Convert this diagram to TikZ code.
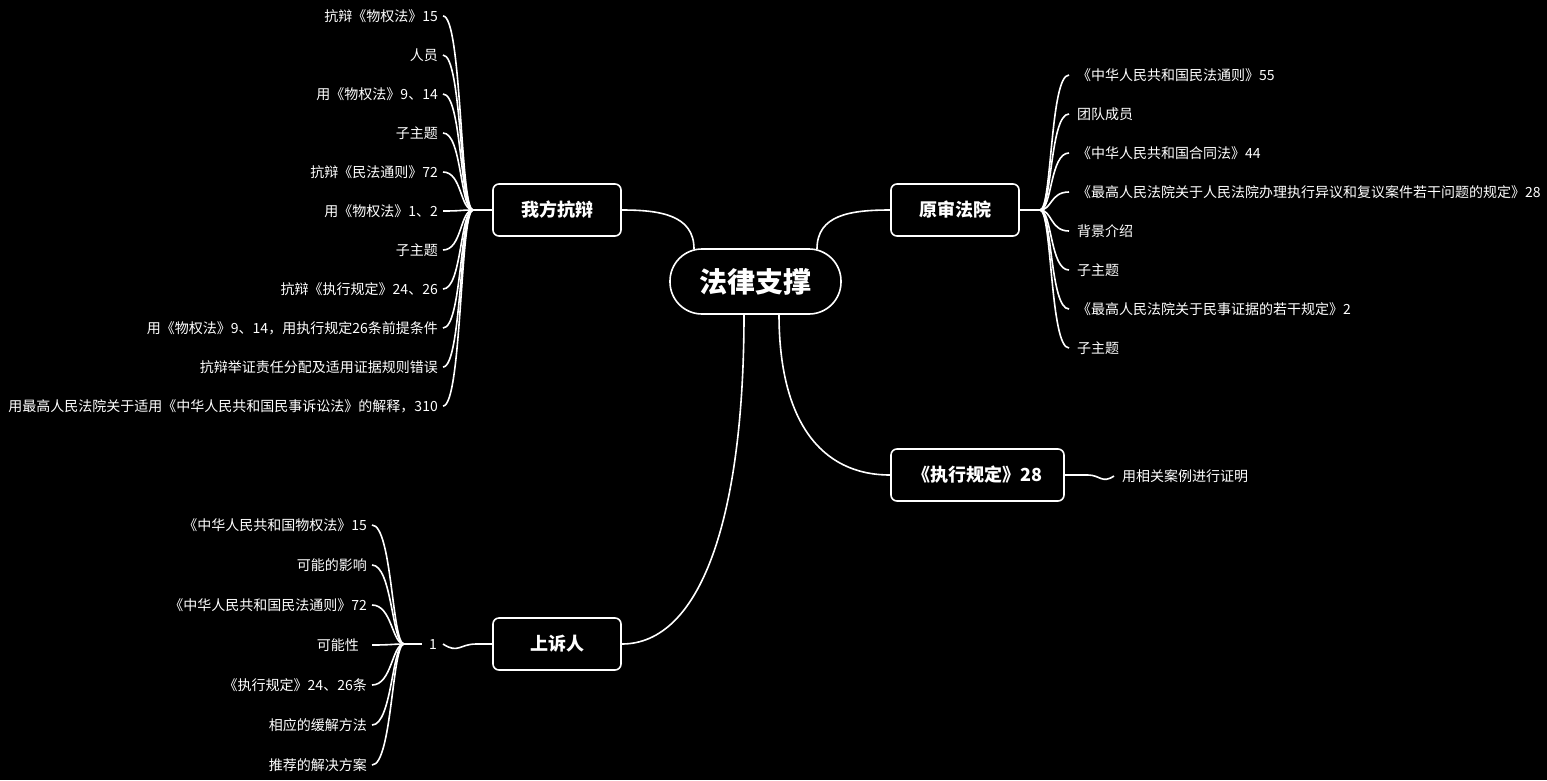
\documentclass[tikz,border=0pt]{standalone}
\usepackage{fontspec}
\setmainfont{Noto Sans CJK SC}
\begin{document}
\begin{tikzpicture}[x=1pt,y=-1pt,
  lnk/.style={white,line width=1.6pt},
  box/.style={draw=white,line width=1.6pt,rounded corners=6pt,text=white,font=\fontsize{18}{20}\selectfont\bfseries,minimum height=52pt,inner sep=0pt},
  lfL/.style={text=white,font=\fontsize{14}{16}\selectfont,anchor=east,inner sep=0pt},
  lfR/.style={text=white,font=\fontsize{14}{16}\selectfont,anchor=west,inner sep=0pt}]
\fill[black] (0,0) rectangle (1547,780);
\useasboundingbox (0,0) rectangle (1547,780);
\node[draw=white,line width=1.6pt,rounded corners=32pt,text=white,font=\fontsize{28}{30}\selectfont\bfseries,minimum width=171pt,minimum height=65pt,inner sep=0pt] (c) at (755.5,281.5) {法律支撑};
\node[box,minimum width=128pt] (a) at (557,210) {我方抗辩};
\node[box,minimum width=128pt] (b) at (955,210) {原审法院};
\node[box,minimum width=173pt] (d) at (977.5,475) {《执行规定》28};
\node[box,minimum width=128pt] (e) at (557,644) {上诉人};
\draw[lnk] (694,249) .. controls (694,215) and (660,210) .. (a.east);
\draw[lnk] (817,249) .. controls (817,215) and (850,210) .. (b.west);
\draw[lnk] (779,314) .. controls (779,420) and (820,475) .. (d.west);
\draw[lnk] (744,314) .. controls (744,520) and (700,644) .. (e.east);
% left leaves
\coordinate (ha) at (473,210);
\draw[lnk] (a.west) -- (ha);
\foreach \t [count=\i] in {抗辩《物权法》15,人员,用《物权法》9、14,子主题,抗辩《民法通则》72,用《物权法》1、2,子主题,抗辩《执行规定》24、26,用《物权法》9、14，用执行规定26条前提条件,抗辩举证责任分配及适用证据规则错误,用最高人民法院关于适用《中华人民共和国民事诉讼法》的解释，310}{
  \pgfmathsetmacro\yy{16+39*(\i-1)}
  \node[lfL] (la\i) at (438,\yy) {\t};
  \draw[lnk] (ha) .. controls (460,210) and (462,\yy) .. (443,\yy);
}
% right leaves
\coordinate (hb) at (1040,210);
\draw[lnk] (b.east) -- (hb);
\foreach \t [count=\i] in {《中华人民共和国民法通则》55,团队成员,《中华人民共和国合同法》44,《最高人民法院关于人民法院办理执行异议和复议案件若干问题的规定》28,背景介绍,子主题,《最高人民法院关于民事证据的若干规定》2,子主题}{
  \pgfmathsetmacro\yy{75+39*(\i-1)}
  \node[lfR] (lb\i) at (1077,\yy) {\t};
  \draw[lnk] (hb) .. controls (1052,210) and (1050,\yy) .. (1069,\yy);
}
% d leaf
\node[lfR] (ld) at (1122,476) {用相关案例进行证明};
\draw[lnk] (d.east) -- (1088,475) .. controls (1100,475) and (1102,484) .. (1114,476);
% e leaves
\node[text=white,font=\fontsize{14}{16}\selectfont,inner sep=0pt] (one) at (433,644) {1};
\draw[lnk] (e.west) -- (476,644) .. controls (460,644) and (458,654) .. (443,644);
\coordinate (he) at (404,644);
\draw[lnk] (he) -- (422,644);
\foreach \t/\xx [count=\i] in {《中华人民共和国物权法》15/367,可能的影响/367,《中华人民共和国民法通则》72/367,可能性/359,《执行规定》24、26条/367,相应的缓解方法/367,推荐的解决方案/367}{
  \pgfmathsetmacro\yy{525+40*(\i-1)}
  \node[lfL] (le\i) at (\xx,\yy) {\t};
  \draw[lnk] (he) .. controls (392,644) and (392,\yy) .. (372,\yy);
}
\end{tikzpicture}
\end{document}
